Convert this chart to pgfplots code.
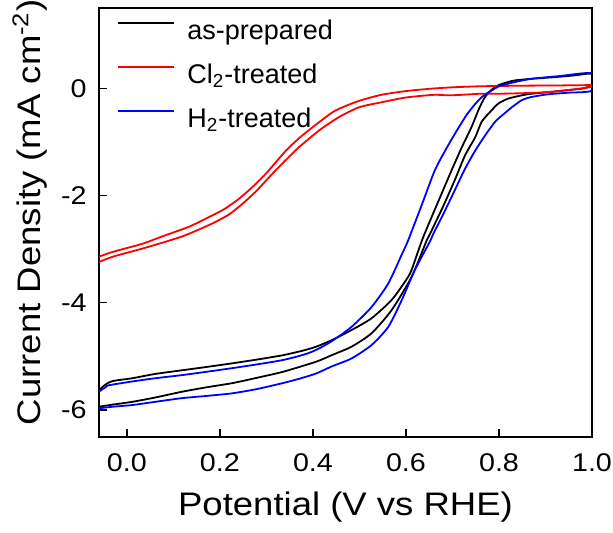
\documentclass[border=0pt]{standalone}
\usepackage{fontspec}
\setmainfont{Liberation Sans}
\newfontfamily\widefont[FakeStretch=1.12]{Liberation Sans}
\usepackage{pgfplots}
\pgfplotsset{compat=1.18}
\begin{document}
\begin{tikzpicture}
\useasboundingbox (-49.5pt,-48.15pt) rectangle (257pt,218.35pt);
\begin{axis}[
  at={(0,0)}, anchor=south west,
  scale only axis, width=246.5pt, height=214.35pt,
  xmin=-0.06, xmax=1.0, ymin=-6.5, ymax=1.5,
  xtick={0,0.2,0.4,0.6,0.8,1.0},
  xticklabels={0.0,0.2,0.4,0.6,0.8,1.0},
  ytick={-6,-4,-2,0},
  yticklabels={-6,-4,-2,0},
  tick align=inside, xtick pos=bottom, ytick pos=left,
  major tick length=4pt,
  every tick/.style={black, line width=0.6pt},
  axis line style={line width=0.9pt},
  tick label style={font=\widefont\fontsize{12.8}{15}\selectfont},
  xticklabel style={anchor=base, yshift=-17.5pt},
  yticklabel style={anchor=east, inner sep=0pt, xshift=-6pt},
  xlabel={Potential (V vs RHE)},
  ylabel={Current Density (mA cm\textsuperscript{-2})},
  label style={font=\widefont\fontsize{16.3}{19}\selectfont},
  xlabel style={at={(axis description cs:0.5,0)}, anchor=base, yshift=-39.2pt},
  ylabel style={at={(axis description cs:-0.1765,0.5)}, anchor=north, inner sep=0pt, xshift=5pt},
  legend style={draw=none, fill=none, at={(0,1)}, anchor=north west, xshift=9pt, yshift=-5.5pt,
    font=\fontsize{13.5}{16}\selectfont, inner sep=0pt, row sep=9pt,
    nodes={inner sep=0pt, text height=10pt, text depth=3pt},
    /tikz/every odd column/.append style={column sep=6pt}},
  legend cell align=left,
  legend image code/.code={\draw[line width=1pt,#1] (0pt,4.5pt) -- (28pt,4.5pt);},
  every axis plot/.append style={line width=0.9pt, smooth, tension=0.4},
]
% as-prepared
\addplot[black] coordinates {
(-0.06,-5.63) (-0.045,-5.52) (-0.03,-5.46) (0.011,-5.41) (0.06,-5.33) (0.119,-5.26)
(0.17,-5.20) (0.227,-5.13) (0.28,-5.06) (0.335,-4.98) (0.38,-4.89) (0.407,-4.82)
(0.44,-4.70) (0.483,-4.51) (0.526,-4.29) (0.569,-3.95) (0.60,-3.58) (0.612,-3.39)
(0.636,-2.80) (0.67,-2.10) (0.698,-1.53) (0.72,-1.10) (0.741,-0.72) (0.757,-0.38)
(0.77,-0.16) (0.785,-0.02) (0.799,0.06) (0.82,0.12) (0.835,0.15) (0.871,0.18)
(0.92,0.21) (0.96,0.24) (1.0,0.27)
(1.0,0.06) (0.99,0.02) (0.978,-0.005) (0.94,-0.04) (0.906,-0.07) (0.87,-0.10)
(0.849,-0.13) (0.82,-0.19) (0.799,-0.28) (0.784,-0.41) (0.763,-0.62) (0.749,-0.91)
(0.727,-1.25) (0.705,-1.71) (0.68,-2.2) (0.652,-2.71) (0.644,-2.85) (0.612,-3.52)
(0.569,-4.14) (0.526,-4.57) (0.483,-4.82) (0.44,-4.98) (0.407,-5.10) (0.335,-5.29)
(0.28,-5.40) (0.227,-5.50) (0.17,-5.58) (0.119,-5.66) (0.06,-5.77) (0.011,-5.85)
(-0.03,-5.90) (-0.06,-5.94)
};
\addlegendentry{as-prepared}
% Cl2-treated
\addplot[red] coordinates {
(-0.06,-3.14) (-0.03,-3.05) (0.033,-2.90) (0.08,-2.75) (0.134,-2.58) (0.177,-2.40)
(0.21,-2.25) (0.241,-2.06) (0.27,-1.84) (0.299,-1.59) (0.32,-1.38) (0.342,-1.16)
(0.37,-0.93) (0.40,-0.72) (0.443,-0.44) (0.47,-0.33) (0.50,-0.23) (0.547,-0.12)
(0.60,-0.05) (0.655,-0.005) (0.70,0.02) (0.763,0.04) (0.85,0.05) (0.93,0.055) (1.0,0.06)
(1.0,0.03) (0.96,-0.02) (0.906,-0.07) (0.85,-0.09) (0.80,-0.10) (0.76,-0.10)
(0.72,-0.12) (0.69,-0.13) (0.66,-0.12) (0.60,-0.17) (0.547,-0.26) (0.50,-0.35)
(0.457,-0.53) (0.414,-0.78) (0.371,-1.09) (0.340,-1.35) (0.313,-1.59) (0.28,-1.90)
(0.249,-2.15) (0.22,-2.35) (0.184,-2.52) (0.126,-2.74) (0.08,-2.87) (0.033,-2.99)
(-0.03,-3.14) (-0.06,-3.24)
};
\addlegendentry{Cl\textsubscript{2}-treated}
% H2-treated
\addplot[blue] coordinates {
(-0.06,-5.66) (-0.045,-5.57) (-0.039,-5.54) (0.011,-5.47) (0.06,-5.41) (0.119,-5.35)
(0.17,-5.29) (0.227,-5.22) (0.28,-5.15) (0.335,-5.07) (0.38,-4.97) (0.407,-4.88)
(0.44,-4.72) (0.483,-4.45) (0.526,-4.08) (0.562,-3.64) (0.591,-3.10) (0.605,-2.83)
(0.635,-2.15) (0.662,-1.53) (0.685,-1.15) (0.705,-0.85) (0.73,-0.50) (0.749,-0.29)
(0.766,-0.14) (0.784,-0.04) (0.80,0.04) (0.835,0.12) (0.871,0.18) (0.93,0.23) (1.0,0.28)
(1.0,-0.04) (0.95,-0.08) (0.906,-0.11) (0.87,-0.16) (0.849,-0.22) (0.828,-0.35)
(0.81,-0.48) (0.792,-0.62) (0.77,-0.88) (0.749,-1.16) (0.727,-1.50) (0.705,-1.90)
(0.68,-2.35) (0.659,-2.71) (0.652,-2.85) (0.619,-3.39) (0.591,-3.95) (0.562,-4.45)
(0.526,-4.79) (0.483,-5.04) (0.44,-5.19) (0.407,-5.32) (0.37,-5.42) (0.335,-5.50)
(0.28,-5.61) (0.227,-5.69) (0.17,-5.74) (0.119,-5.78) (0.06,-5.85) (0.011,-5.91)
(-0.03,-5.94) (-0.06,-5.97)
};
\addlegendentry{H\textsubscript{2}-treated}
\end{axis}
\end{tikzpicture}
\end{document}
